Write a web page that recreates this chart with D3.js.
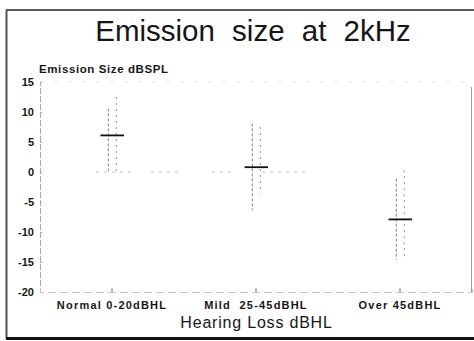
<!DOCTYPE html>
<html>
<head>
<meta charset="utf-8">
<script src="https://cdn.jsdelivr.net/npm/d3@7"></script>
<style>
  html, body { margin: 0; padding: 0; background: #fff; }
  svg { display: block; }
  text { font-family: "Liberation Sans", Arial, Helvetica, sans-serif; fill: #161616; }
</style>
</head>
<body>
<svg id="chart" width="474" height="341"></svg>
<script>
// Hearing-loss groups and emission size (dBSPL) at 2 kHz
const categories = ["Normal 0-20dBHL", "Mild  25-45dBHL", "Over 45dBHL"];
const means      = [6.1, 0.8, -7.9];
// inner whisker (left of centre)
const innerHigh  = [10.6, 8.1, -1.1];
const innerLow   = [0, -6.4, -14.6];
// outer whisker (right of centre)
const outerHigh  = [12.5, 7.5, 0.3];
const outerLow   = [0, -3.6, -14.6];
const yTicks     = [15, 10, 5, 0, -5, -10, -15, -20];
const yTickLabels = ["15", "10", "5", "0", "-5", "-10", "-15", "-20"];

const svg = d3.select("#chart");

const plot = { left: 40, right: 472, top: 82, bottom: 292 };

const x = d3.scaleBand().domain(categories).range([plot.left, plot.right]).padding(0);
const y = d3.scaleLinear().domain([-20, 15]).range([plot.bottom, plot.top]);

// outer frame
svg.append("line").attr("x1", 6).attr("x2", 474).attr("y1", 10).attr("y2", 10)
  .attr("stroke", "#222").attr("stroke-width", 1.6);
svg.append("line").attr("x1", 6.5).attr("x2", 6.5).attr("y1", 10).attr("y2", 338)
  .attr("stroke", "#555").attr("stroke-width", 2);
svg.append("line").attr("x1", 6).attr("x2", 474).attr("y1", 338.5).attr("y2", 338.5)
  .attr("stroke", "#111").attr("stroke-width", 3);

// title
svg.append("text")
  .attr("x", 253).attr("y", 41)
  .attr("text-anchor", "middle")
  .style("font-size", "29.5px")
  .style("word-spacing", "9px")
  .text("Emission size at 2kHz");

// plot box: top (faint) and right edge
svg.append("line").attr("x1", plot.left).attr("x2", plot.right)
  .attr("y1", plot.top).attr("y2", plot.top)
  .attr("stroke", "#e4e4e4").attr("stroke-width", 1).attr("stroke-dasharray", "4,10");
svg.append("line").attr("x1", plot.right - 0.5).attr("x2", plot.right - 0.5)
  .attr("y1", 87).attr("y2", plot.bottom)
  .attr("stroke", "#999").attr("stroke-width", 1);

// y axis
const yAxis = d3.axisLeft(y)
  .tickValues(yTicks)
  .tickFormat((d, i) => yTickLabels[i])
  .tickSize(-2)
  .tickPadding(6);
const gy = svg.append("g")
  .attr("transform", `translate(${plot.left},0)`)
  .call(yAxis);
gy.select(".domain").attr("stroke", "#aaa").attr("stroke-dasharray", "6,2");
gy.selectAll(".tick line").attr("stroke", "#aaa");
gy.selectAll(".tick text")
  .style("font-size", "11px").style("font-weight", "bold")
  .attr("fill", "#161616");

// y axis title
svg.append("text")
  .attr("x", 39).attr("y", 73)
  .style("font-size", "11.5px").style("font-weight", "bold")
  .style("letter-spacing", "0.6px")
  .text("Emission Size dBSPL");

// x axis
const xAxis = d3.axisBottom(x).tickSize(-4).tickPadding(9);
const gx = svg.append("g")
  .attr("transform", `translate(0,${plot.bottom})`)
  .call(xAxis);
gx.select(".domain").attr("stroke", "#c4c4c4").attr("stroke-dasharray", "8,4");
gx.selectAll(".tick line").attr("stroke", "#777");
gx.selectAll(".tick text")
  .attr("dy", "0.71em")
  .style("font-size", "11px").style("font-weight", "bold")
  .style("letter-spacing", "1.2px")
  .style("white-space", "pre")
  .attr("fill", "#161616");

// x axis title
svg.append("text")
  .attr("x", 256.5).attr("y", 328)
  .attr("text-anchor", "middle")
  .style("font-size", "16px")
  .style("letter-spacing", "0.8px")
  .text("Hearing Loss dBHL");

// faint zero reference segments
const zeroSegs = [[96, 134], [151, 178], [212, 232], [262, 305]];
svg.append("g").selectAll("line").data(zeroSegs).join("line")
  .attr("x1", d => d[0]).attr("x2", d => d[1])
  .attr("y1", y(0)).attr("y2", y(0))
  .attr("stroke", "#c4c4c4").attr("stroke-width", 1).attr("stroke-dasharray", "3,5");

// whiskers and mean bars
const groups = categories.map((c, i) => ({
  cx: x(c) + x.bandwidth() / 2,
  mean: means[i],
  inner: [innerLow[i], innerHigh[i]],
  outer: [outerLow[i], outerHigh[i]]
}));

const g = svg.append("g");
g.selectAll("line.inner").data(groups).join("line")
  .attr("class", "inner")
  .attr("x1", d => d.cx - 3.7).attr("x2", d => d.cx - 3.7)
  .attr("y1", d => y(d.inner[1])).attr("y2", d => y(d.inner[0]))
  .attr("stroke", "#808080").attr("stroke-width", 1).attr("stroke-dasharray", "3,2");
g.selectAll("line.outer").data(groups).join("line")
  .attr("class", "outer")
  .attr("x1", d => d.cx + 4.3).attr("x2", d => d.cx + 4.3)
  .attr("y1", d => y(d.outer[1])).attr("y2", d => y(d.outer[0]))
  .attr("stroke", "#8a8a8a").attr("stroke-width", 1).attr("stroke-dasharray", "2,4");
g.selectAll("line.mean").data(groups).join("line")
  .attr("class", "mean")
  .attr("x1", d => d.cx - 11.5).attr("x2", d => d.cx + 12)
  .attr("y1", d => y(d.mean)).attr("y2", d => y(d.mean))
  .attr("stroke", "#111").attr("stroke-width", 1.8);
</script>
</body>
</html>
